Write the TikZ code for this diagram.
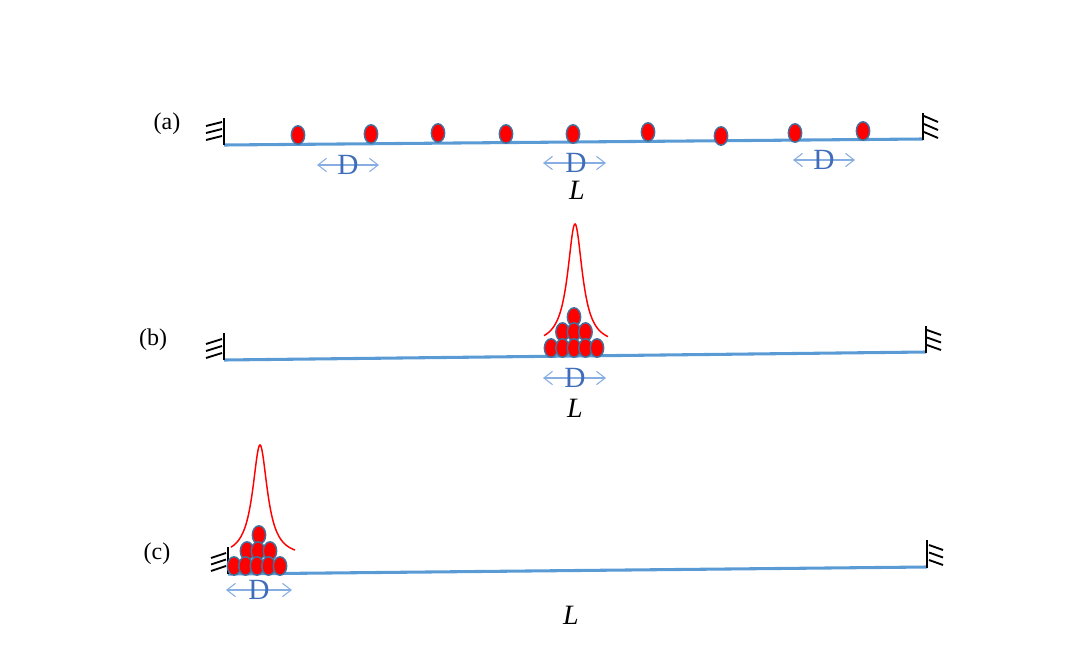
\documentclass[tikz,border=0pt]{standalone}
\usepackage{fontspec}
\setmainfont{Liberation Serif}
\usetikzlibrary{arrows.meta,shapes.geometric,calc}
\definecolor{rodblue}{HTML}{5B9BD5}
\definecolor{dotedge}{HTML}{41719C}
\definecolor{arrblue}{HTML}{86AEE2}
\definecolor{dblue}{HTML}{3F6DBA}
\tikzset{
  rod/.style={rodblue, line width=2.3pt},
  wall/.style={black, line width=2.1pt},
  hatch/.style={black, line width=1.4pt},
  particle/.style={ellipse, fill=red, draw=dotedge, line width=1.1pt, minimum width=10pt, minimum height=13.8pt, inner sep=0pt},
  peak/.style={red, line width=1.1pt},
  darrow/.style={arrblue, line width=0.8pt, {Straight Barb[length=6.5pt,width=10pt]}-{Straight Barb[length=6.5pt,width=10pt]}},
  dlab/.style={text=dblue, font=\fontsize{22}{22}\selectfont, inner sep=0pt},
  lab/.style={font=\fontsize{18}{18}\selectfont, inner sep=0pt},
  llab/.style={font=\fontsize{21}{21}\selectfont\itshape, inner sep=0pt}
}
\begin{document}
\begin{tikzpicture}[x=0.75pt,y=-0.75pt]
\useasboundingbox (0,0) rectangle (1091,667);

% ---------- (a) ----------
\coordinate (aL) at (224,145);
\coordinate (aR) at (923,139);
\draw[rod] (aL) -- (aR);
\draw[wall] ($(aL)+(0,-27)$) -- (aL);
\foreach \k in {0,1,2}{\draw[hatch] ($(aL)+(-18,-19+7*\k)$) -- ($(aL)+(-2,-23+7*\k)$);}
\draw[wall] ($(aR)+(0,-26)$) -- ($(aR)+(0,1)$);
\foreach \k in {0,1,2}{\draw[hatch] ($(aR)+(1,-23+8*\k)$) -- ($(aR)+(15,-17+8*\k)$);}
\node[lab] (la) at (167,124) {(a)};
\foreach \x/\y [count=\i] in {298/135,371/134,438/133,506/134,573/134,648/132,721/136,795/133,863/131}{
  \node[particle] (pa\i) at (\x,\y) {};
}
\coordinate (da1l) at (317,165); \coordinate (da1r) at (379,165);
\draw[darrow] (da1l) -- (da1r);
\node[dlab] (da1) at (348,165) {D};
\coordinate (da2l) at (543,163); \coordinate (da2r) at (606,163);
\draw[darrow] (da2l) -- (da2r);
\node[dlab] (da2) at (576,163) {D};
\coordinate (da3l) at (793,160); \coordinate (da3r) at (855,160);
\draw[darrow] (da3l) -- (da3r);
\node[dlab] (da3) at (824,160) {D};
\node[llab] (La) at (577,190) {L};

% ---------- (b) ----------
\coordinate (bL) at (224,360);
\coordinate (bR) at (926,352);
\draw[rod] (bL) -- (bR);
\draw[wall] ($(bL)+(0,-27)$) -- (bL);
\foreach \k in {0,1,2}{\draw[hatch] ($(bL)+(-18,-16+7*\k)$) -- ($(bL)+(-2,-21+7*\k)$);}
\draw[wall] ($(bR)+(0,-26)$) -- ($(bR)+(0,1)$);
\foreach \k in {0,1,2}{\draw[hatch] ($(bR)+(1,-22+7.5*\k)$) -- ($(bR)+(15,-17+7.5*\k)$);}
\node[lab] (lb) at (153,340) {(b)};
\begin{scope}[shift={(574,348)}]
  \draw[peak] plot[domain=-31:33, samples=120, smooth] ({1+\x},{-3-121/(1+(\x/9)^2)});
  \node[particle] (pb9) at (0,-31) {};
  \foreach \dx [count=\i] in {-11.5,0,11.5}{\node[particle] (pbm\i) at (\dx,-16) {};}
  \foreach \dx [count=\i] in {-23,-11.5,0,11.5,23}{\node[particle] (pbb\i) at (\dx,0) {};}
\end{scope}
\coordinate (dbl) at (543,378); \coordinate (dbr) at (606,378);
\draw[darrow] (dbl) -- (dbr);
\node[dlab] (db) at (575,378) {D};
\node[llab] (Lb) at (575,408) {L};

% ---------- (c) ----------
\coordinate (cL) at (228,574);
\coordinate (cR) at (927,567);
\draw[rod] (cL) -- (cR);
\draw[wall] ($(cL)+(0,-27)$) -- (cL);
\foreach \k in {0,1,2}{\draw[hatch] ($(cL)+(-17,-16+6.5*\k)$) -- ($(cL)+(-2,-21+6.5*\k)$);}
\draw[wall] ($(cR)+(0,-27)$) -- ($(cR)+(0,1)$);
\foreach \k in {0,1,2}{\draw[hatch] ($(cR)+(2,-22+7.5*\k)$) -- ($(cR)+(16,-17+7.5*\k)$);}
\node[lab] (lc) at (157,554) {(c)};
\begin{scope}[shift={(257,566)}]
  \draw[peak] plot[domain=-29:35, samples=120, smooth] ({3+\x},{-9-112/(1+(\x/9)^2)});
  \node[particle] (pc9) at (2,-31) {};
  \foreach \dx [count=\i] in {-10,1,13}{\node[particle] (pcm\i) at (\dx,-15) {};}
  \foreach \dx [count=\i] in {-23,-11.5,0,11.5,23}{\node[particle] (pcb\i) at (\dx,0) {};}
\end{scope}
\coordinate (dcl) at (226,590); \coordinate (dcr) at (292,590);
\draw[darrow] (dcl) -- (dcr);
\node[dlab] (dc) at (259,590) {D};
\node[llab] (Lc) at (571,615) {L};
\end{tikzpicture}
\end{document}
